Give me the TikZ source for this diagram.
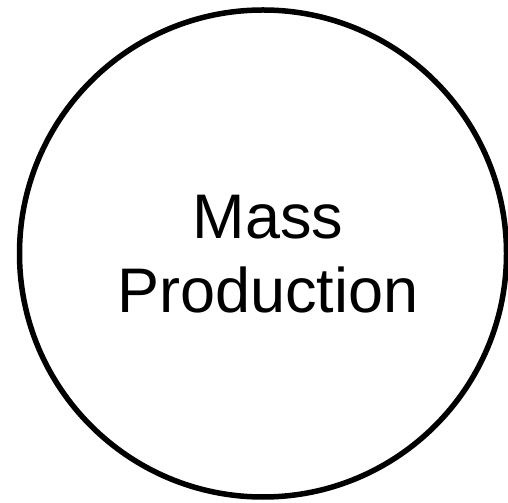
\documentclass[tikz,border=0pt]{standalone}
\usepackage{fontspec}
\setmainfont{Liberation Sans}
\usepackage{tikz}
\usetikzlibrary{positioning}
\tikzstyle{ring}  = [circle, draw=black, line width=5.5bp, minimum size=487bp,
                     inner sep=0pt]
\tikzstyle{caption} = [align=center, font=\fontsize{63bp}{74bp}\selectfont]

\begin{document}
\begin{tikzpicture}
  \useasboundingbox (0,0) rectangle (508bp,503bp);
  \node[ring] (mass) at (263bp,249.5bp) {};
  \node[caption, xshift=5bp, yshift=-1bp] (mptext) at (mass.center) {Mass\\Production};
\end{tikzpicture}
\end{document}
